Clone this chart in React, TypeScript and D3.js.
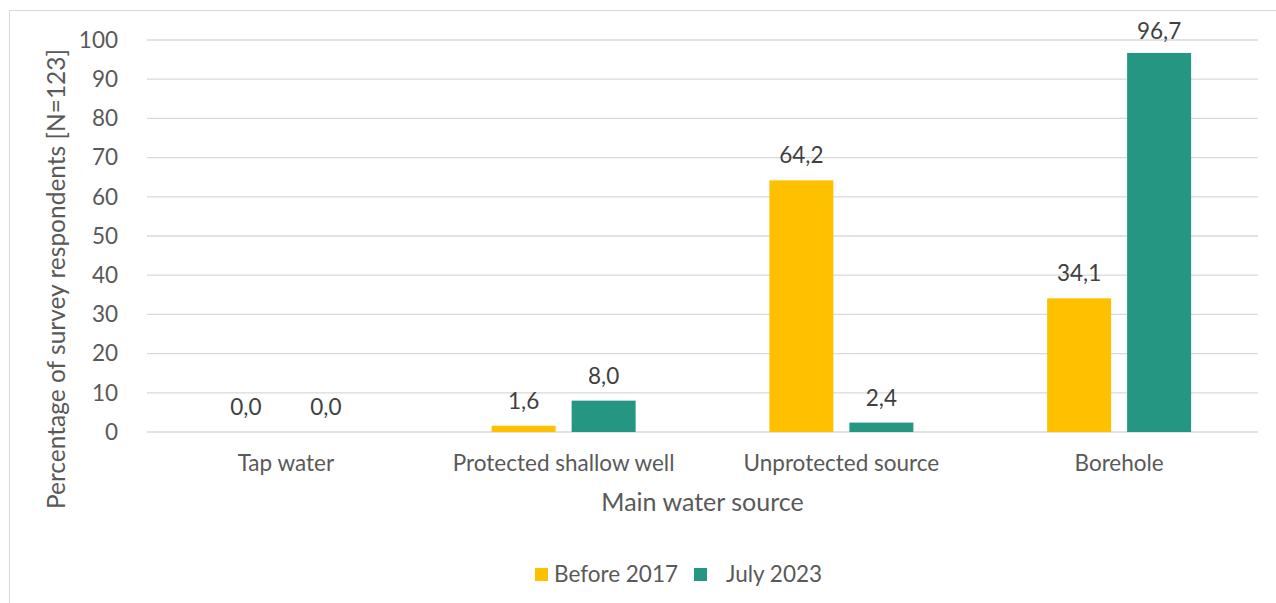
import React from "react";
import * as d3 from "d3";

const categories = ["Tap water", "Protected shallow well", "Unprotected source", "Borehole"];
const seriesNames = ["Before 2017", "July 2023"];
const before2017 = [0.0, 1.6, 64.2, 34.1];
const july2023 = [0.0, 8.0, 2.4, 96.7];
const yTicks = [0, 10, 20, 30, 40, 50, 60, 70, 80, 90, 100];
const colors = ["#FFC000", "#249682"];

const W = 1276;
const H = 603;
const FONT = "Lato, 'Open Sans', sans-serif";

export default function App() {
  const x0 = d3.scaleBand<string>().domain(categories).range([147, 1258]).padding(0);
  const x1 = d3
    .scaleBand<string>()
    .domain(seriesNames)
    .range([0, x0.bandwidth()])
    .paddingInner(0.2)
    .paddingOuter(0.836);
  const y = d3.scaleLinear().domain([0, 100]).range([432, 40]);
  const fmt = (v: number) => v.toFixed(1).replace(".", ",");
  const series = [before2017, july2023];

  return (
    <svg
      width={W}
      height={H}
      style={{ position: "absolute", left: 0, top: 0, background: "#fff" }}
      fontFamily={FONT}
    >
      <rect x={9.5} y={10.5} width={1400} height={800} fill="#fff" stroke="#d9d9d9" strokeWidth={1} />
      {yTicks.map((t) => (
        <g key={t}>
          <line x1={147} x2={1258} y1={y(t)} y2={y(t)} stroke="#d9d9d9" strokeWidth={1.3} />
          <text x={118} y={y(t)} dy="0.35em" textAnchor="end" fontSize={22.5} fill="#595959">
            {t}
          </text>
        </g>
      ))}
      {categories.map((c, i) => (
        <g key={c} transform={`translate(${x0(c)},0)`}>
          {seriesNames.map((s, j) => {
            const v = series[j][i];
            const bx = x1(s) as number;
            const top = y(v);
            return (
              <g key={s}>
                {v > 0 && (
                  <rect x={bx} y={top} width={x1.bandwidth()} height={y(0) - top} fill={colors[j]} />
                )}
                <text
                  x={bx + x1.bandwidth() / 2}
                  y={Math.max(top - 17, 39)}
                  textAnchor="middle"
                  fontSize={22.5}
                  fill="#404040"
                >
                  {fmt(v)}
                </text>
              </g>
            );
          })}
          <text x={x0.bandwidth() / 2} y={471} textAnchor="middle" fontSize={22.5} fill="#595959">
            {c}
          </text>
        </g>
      ))}
      <text x={702.5} y={511} textAnchor="middle" fontSize={25} fill="#595959">
        Main water source
      </text>
      <text
        transform={`translate(65,279) rotate(-90)`}
        textAnchor="middle"
        fontSize={24.5}
        fill="#595959"
      >
        Percentage of survey respondents [N=123]
      </text>
      <g>
        <rect x={535} y={568} width={13} height={13} fill={colors[0]} />
        <text x={554} y={582} fontSize={22.5} fill="#595959">
          {seriesNames[0]}
        </text>
        <rect x={694} y={568} width={13} height={13} fill={colors[1]} />
        <text x={726} y={582} fontSize={22.5} fill="#595959">
          {seriesNames[1]}
        </text>
      </g>
    </svg>
  );
}
